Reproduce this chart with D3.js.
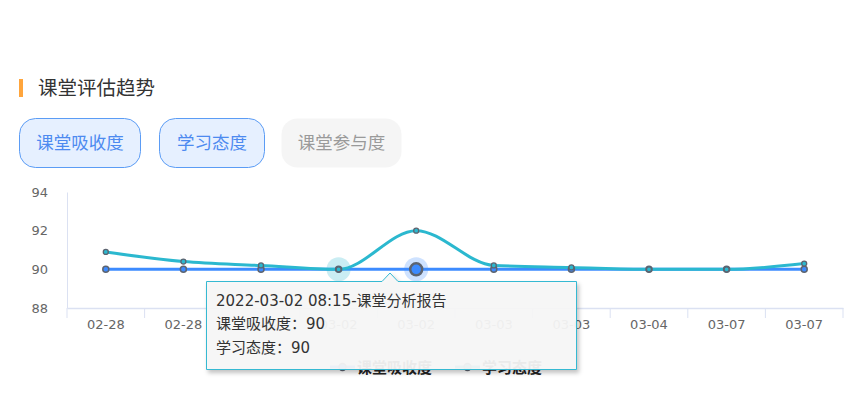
<!DOCTYPE html>
<html>
<head>
<meta charset="utf-8">
<script src="https://cdn.jsdelivr.net/npm/d3@7"></script>
<style>
  body { margin: 0; background: #fff; font-family: "DejaVu Sans", "Noto Sans CJK SC", sans-serif; }
  svg text { font-family: "DejaVu Sans", "Noto Sans CJK SC", sans-serif; }
</style>
</head>
<body>
<div id="chart"></div>
<script>
// chart data
const dates = ["02-28", "02-28", "03-02", "03-02", "03-02", "03-03", "03-03", "03-04", "03-07", "03-07"];
const absorption = [90, 90, 90, 90, 90, 90, 90, 90, 90, 90];
const attitude = [90.9, 90.4, 90.2, 90, 92, 90.2, 90.1, 90, 90, 90.3];
const yTicks = [88, 90, 92, 94];
const tabs = ["课堂吸收度", "学习态度", "课堂参与度"];
const seriesNames = ["课堂吸收度", "学习态度"];
const tooltipLines = ["2022-03-02 08:15-课堂分析报告", "课堂吸收度：90", "学习态度：90"];

const width = 864, height = 413;
const blue = "#3d8bff", cyan = "#2bb8cf";

const svg = d3.select("#chart")
  .append("svg")
    .attr("width", width)
    .attr("height", height);

const defs = svg.append("defs");
const shadow = defs.append("filter").attr("id", "shadow")
  .attr("x", "-10%").attr("y", "-10%").attr("width", "130%").attr("height", "140%");
shadow.append("feDropShadow")
  .attr("dx", 2).attr("dy", 3).attr("stdDeviation", 2)
  .attr("flood-color", "#000").attr("flood-opacity", 0.25);

// title
svg.append("rect")
  .attr("x", 19).attr("y", 79).attr("width", 4).attr("height", 18)
  .attr("fill", "#ffa53c");
svg.append("text")
  .attr("x", 38).attr("y", 95)
  .style("font-size", "19.5px")
  .attr("fill", "#333")
  .text("课堂评估趋势");

// tab buttons
const tabX = [19, 159, 281];
const tabW = [121, 105, 120];
tabs.forEach((t, i) => {
  const active = i < 2;
  const g = svg.append("g").attr("transform", `translate(${tabX[i]},118)`);
  g.append("rect")
    .attr("x", 0.5).attr("y", 0.5)
    .attr("width", tabW[i]).attr("height", 49)
    .attr("rx", 16)
    .attr("fill", active ? "#e6f0ff" : "#f5f5f5")
    .attr("stroke", active ? "#5b9cf5" : "none");
  g.append("text")
    .attr("x", tabW[i] / 2 + 0.5).attr("y", 31)
    .attr("text-anchor", "middle")
    .style("font-size", "17.5px")
    .attr("fill", active ? "#4d8af0" : "#9a9a9a")
    .text(t);
});

// scales
const x = d3.scaleBand()
  .domain(d3.range(dates.length))
  .range([67, 843]);
const y = d3.scaleLinear()
  .domain([88, 94])
  .range([308, 192]);
const cx = i => x(i) + x.bandwidth() / 2;

// Y axis
const yAxis = svg.append("g")
  .attr("transform", "translate(67,0)")
  .call(d3.axisLeft(y).tickValues(yTicks).tickFormat(d3.format("d")).tickSize(0).tickPadding(19));
yAxis.select(".domain").attr("stroke", "#dbe1f2");
yAxis.selectAll("text").attr("fill", "#666").style("font-size", "13px");

// X axis
const xAxis = svg.append("g")
  .attr("transform", "translate(0,308)")
  .call(d3.axisBottom(x).tickFormat(i => dates[i]).tickSize(0).tickPadding(12));
xAxis.select(".domain").attr("stroke", "#dbe1f2").attr("stroke-width", 1.5);
xAxis.selectAll("text").attr("fill", "#666").style("font-size", "13px");
xAxis.selectAll(".tick line").remove();
xAxis.append("g").selectAll("line")
  .data(d3.range(dates.length + 1))
  .join("line")
    .attr("x1", i => 67 + i * x.bandwidth())
    .attr("x2", i => 67 + i * x.bandwidth())
    .attr("y1", 0).attr("y2", 10)
    .attr("stroke", "#dbe1f2");

// lines
const lineFlat = d3.line()
  .x((d, i) => cx(i))
  .y(d => y(d));
const lineSmooth = d3.line()
  .x((d, i) => cx(i))
  .y(d => y(d))
  .curve(d3.curveMonotoneX);

svg.append("path")
  .datum(absorption)
  .attr("d", lineFlat)
  .attr("fill", "none")
  .attr("stroke", blue)
  .attr("stroke-width", 3);

svg.append("path")
  .datum(attitude)
  .attr("d", lineSmooth)
  .attr("fill", "none")
  .attr("stroke", cyan)
  .attr("stroke-width", 3);

// hover halos
svg.append("circle")
  .attr("cx", cx(3)).attr("cy", y(attitude[3]))
  .attr("r", 12).attr("fill", cyan).attr("opacity", 0.25);
svg.append("circle")
  .attr("cx", cx(4)).attr("cy", y(absorption[4]))
  .attr("r", 12).attr("fill", blue).attr("opacity", 0.25);

// symbols
svg.append("g").selectAll("circle")
  .data(absorption)
  .join("circle")
    .attr("cx", (d, i) => cx(i))
    .attr("cy", d => y(d))
    .attr("r", (d, i) => i === 4 ? 6 : 3)
    .attr("fill", blue)
    .attr("stroke", "#5d6470")
    .attr("stroke-width", (d, i) => i === 4 ? 2.5 : 1.5);

svg.append("g").selectAll("circle")
  .data(attitude)
  .join("circle")
    .attr("cx", (d, i) => cx(i))
    .attr("cy", d => y(d))
    .attr("r", 2.5)
    .attr("fill", cyan)
    .attr("stroke", "#5d6470")
    .attr("stroke-width", 1.3);

// legend
const legend = svg.append("g").attr("transform", "translate(330,367)");
const legendX = [0, 125];
seriesNames.forEach((name, i) => {
  const g = legend.append("g").attr("transform", `translate(${legendX[i]},0)`);
  const col = i === 0 ? blue : cyan;
  g.append("line")
    .attr("x1", 0).attr("x2", 25).attr("y1", 0).attr("y2", 0)
    .attr("stroke", col).attr("stroke-width", 3);
  g.append("circle")
    .attr("cx", 12.5).attr("cy", 0).attr("r", 3.5)
    .attr("fill", col).attr("stroke", "#5d6470").attr("stroke-width", 1.3);
  g.append("text")
    .attr("x", 27).attr("y", 6)
    .style("font-size", "15px")
    .style("font-weight", "bold")
    .attr("fill", "#222")
    .text(name);
});

// tooltip
const tip = svg.append("g");
tip.append("path")
  .attr("d", "M206.5,281.5 H382 L390,273 L398,281.5 H576.5 V369.5 H206.5 Z")
  .attr("fill", "#f7f7f7")
  .attr("fill-opacity", 0.93)
  .attr("stroke", "#35b9d2")
  .attr("stroke-width", 1)
  .attr("filter", "url(#shadow)");
tip.selectAll("text")
  .data(tooltipLines)
  .join("text")
    .attr("x", 216)
    .attr("y", (d, i) => 305.5 + i * 23.5)
    .style("font-size", "15px")
    .attr("fill", "#333")
    .text(d => d);
</script>
</body>
</html>
